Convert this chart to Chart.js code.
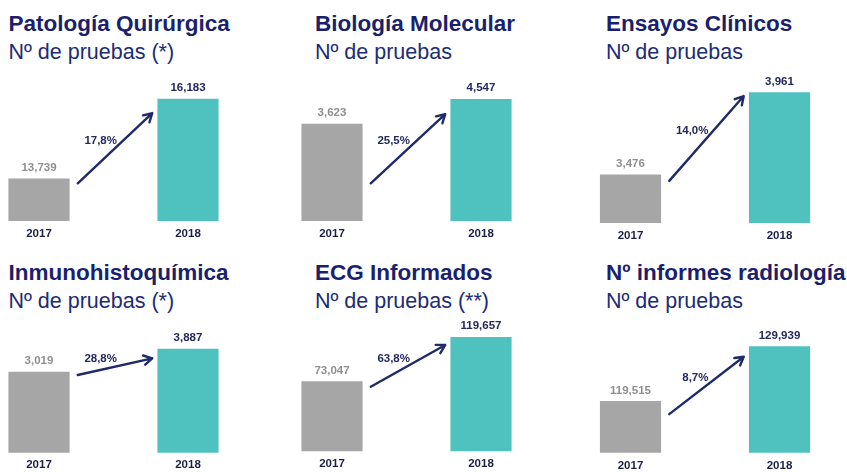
<!DOCTYPE html>
<html>
<head>
<meta charset="utf-8">
<script src="https://cdn.jsdelivr.net/npm/chart.js@4.4.1/dist/chart.umd.min.js"></script>
<style>
    html, body { margin: 0; padding: 0; background: #fff; }
    body { width: 847px; height: 472px; position: relative; overflow: hidden;
           font-family: "Liberation Sans", Arial, sans-serif; }
    .head { position: absolute; white-space: nowrap; line-height: 28px; }
    .head .t { font-weight: bold; font-size: 22.5px; color: #1a1f6e; }
    .head .s { font-size: 21.5px; color: #202c74; }
    canvas { position: absolute; }
</style>
</head>
<body>
<script>
const titles = ["Patología Quirúrgica", "Biología Molecular", "Ensayos Clínicos",
                "Inmunohistoquímica", "ECG Informados", "Nº informes radiología"];
const subtitles = ["Nº de pruebas (*)", "Nº de pruebas", "Nº de pruebas",
                   "Nº de pruebas (*)", "Nº de pruebas (**)", "Nº de pruebas"];
const years = ["2017", "2018"];
const values2017 = [13739, 3623, 3476, 3019, 73047, 119515];
const values2018 = [16183, 4547, 3961, 3887, 119657, 129939];
const growth = ["17,8%", "25,5%", "14,0%", "28,8%", "63,8%", "8,7%"];
// the original axes do not all start at zero
const axisMin = [12456, 0, 3195, 0, 0, 109778];
// the arrows were placed by hand, so keep their ends in each chart's own units
const arrowFrom = [13600, 1400, 3441, 2908, 67670, 117090];
const arrowTo = [15750, 3990, 3940, 3537, 111550, 128029];

// layout of the 3x2 grid
const cols = [
    { left: 0, width: 290, bar: 39, head: 8.5 },
    { left: 290, width: 290, bar: 332, head: 315 },
    { left: 580, width: 267, bar: 630.5, head: 606 },
];
const rows = [
    { top: 62, height: 188, head: 10 },
    { top: 312, height: 160, head: 258.5 },
];
const plotTop = [99, 99.3, 92.5, 349, 337.3, 346.7];
const plotBottom = [220.7, 220.7, 222.7, 452.3, 451, 452.5];
const barGap = 149;

const NAVY = "#1f2a6b";
const FONT = "\"Liberation Sans\", Arial, sans-serif";

const annotate = {
    id: "annotate",
    afterDatasetsDraw(chart, args, opts) {
        const i = opts.index;
        const ctx = chart.ctx;
        const xs = chart.scales.x;
        const ys = chart.scales.y;
        const vals = [values2017[i], values2018[i]];
        ctx.save();
        ctx.font = "bold 11.5px " + FONT;
        ctx.textAlign = "center";
        ctx.textBaseline = "middle";
        vals.forEach((v, k) => {
            const x = xs.getPixelForValue(k);
            ctx.fillStyle = k === 0 ? "#8f8f8f" : "#23295e";
            ctx.fillText(v.toLocaleString("en-US"), x, ys.getPixelForValue(v) - 11);
            ctx.fillStyle = "#1c2047";
            ctx.fillText(years[k], x, chart.chartArea.bottom + 13);
        });

        // arrow
        const x0 = xs.getPixelForValue(0.26), y0 = ys.getPixelForValue(arrowFrom[i]);
        const x1 = xs.getPixelForValue(0.76), y1 = ys.getPixelForValue(arrowTo[i]);
        ctx.strokeStyle = NAVY;
        ctx.lineWidth = 2.4;
        ctx.lineCap = "round";
        ctx.lineJoin = "round";
        ctx.beginPath();
        ctx.moveTo(x0, y0);
        ctx.lineTo(x1, y1);
        const ang = Math.atan2(y1 - y0, x1 - x0);
        const len = 9.5, spread = 0.52;
        ctx.moveTo(x1 - len * Math.cos(ang - spread), y1 - len * Math.sin(ang - spread));
        ctx.lineTo(x1, y1);
        ctx.lineTo(x1 - len * Math.cos(ang + spread), y1 - len * Math.sin(ang + spread));
        ctx.stroke();

        ctx.fillStyle = "#23295e";
        ctx.textAlign = "right";
        ctx.fillText(growth[i], (x0 + x1) / 2 + 2, (y0 + y1) / 2 - 7.5);
        ctx.restore();
    },
};

titles.forEach((title, i) => {
    const col = cols[i % 3];
    const row = rows[Math.floor(i / 3)];

    const head = document.createElement("div");
    head.className = "head";
    head.style.left = col.head + "px";
    head.style.top = row.head + "px";
    head.innerHTML = '<div class="t"></div><div class="s"></div>';
    head.querySelector(".t").textContent = title;
    head.querySelector(".s").textContent = subtitles[i];
    document.body.appendChild(head);

    const canvas = document.createElement("canvas");
    canvas.width = col.width;
    canvas.height = row.height;
    canvas.style.left = col.left + "px";
    canvas.style.top = row.top + "px";
    document.body.appendChild(canvas);

    const padLeft = col.bar - col.left;
    new Chart(canvas.getContext("2d"), {
        type: "bar",
        data: {
            labels: years,
            datasets: [{
                data: [values2017[i], values2018[i]],
                base: axisMin[i],
                backgroundColor: ["#a6a6a6", "#4fc2bf"],
                borderWidth: 0,
                barThickness: 60.5,
                clip: false,
            }],
        },
        options: {
            responsive: false,
            animation: false,
            events: [],
            layout: {
                padding: {
                    left: padLeft,
                    right: col.width - padLeft - barGap,
                    top: plotTop[i] - row.top,
                    bottom: row.top + row.height - plotBottom[i],
                },
            },
            plugins: {
                legend: { display: false },
                tooltip: { enabled: false },
                annotate: { index: i },
            },
            scales: {
                x: { display: false, offset: false },
                y: { display: false, min: axisMin[i], max: values2018[i] },
            },
        },
        plugins: [annotate],
    });
});
</script>
</body>
</html>
